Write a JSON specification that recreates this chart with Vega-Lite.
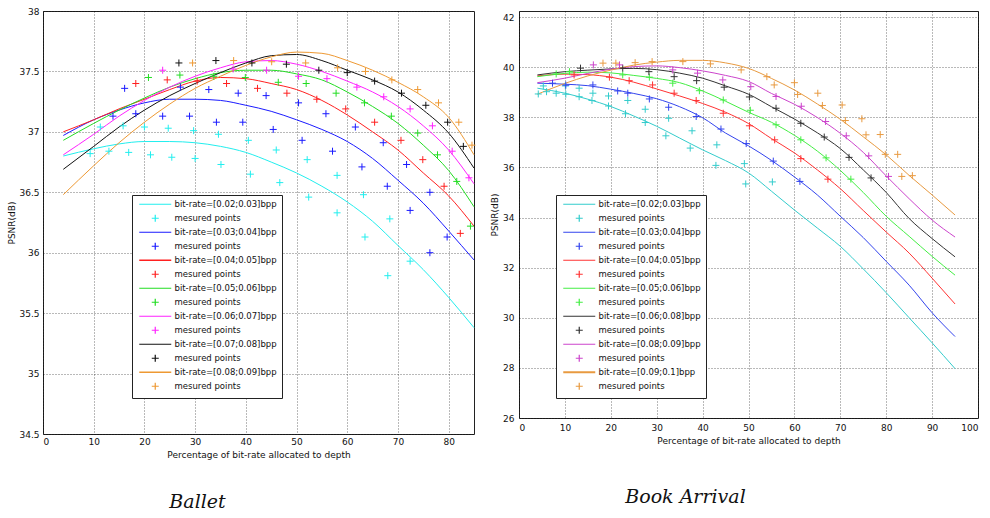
{
  "$schema": "https://vega.github.io/schema/vega-lite/v6.json",
  "padding": {"left": 7, "top": 6, "right": 0, "bottom": 0},
  "background": "white",
  "datasets": {
    "bl": [
      {"k":"a1","x":4,"y":36.80},{"k":"a1","x":10,"y":36.86},{"k":"a1","x":15,"y":36.90},{"k":"a1","x":20,"y":36.92},{"k":"a1","x":25,"y":36.92},{"k":"a1","x":30,"y":36.91},{"k":"a1","x":35,"y":36.88},{"k":"a1","x":40,"y":36.83},{"k":"a1","x":45,"y":36.75},{"k":"a1","x":50,"y":36.66},{"k":"a1","x":55,"y":36.55},{"k":"a1","x":60,"y":36.42},{"k":"a1","x":65,"y":36.26},{"k":"a1","x":70,"y":36.06},{"k":"a1","x":75,"y":35.86},{"k":"a1","x":80,"y":35.63},{"k":"a1","x":85,"y":35.38},
      {"k":"a2","x":4,"y":36.97},{"k":"a2","x":10,"y":37.10},{"k":"a2","x":15,"y":37.18},{"k":"a2","x":20,"y":37.24},{"k":"a2","x":25,"y":37.27},{"k":"a2","x":30,"y":37.27},{"k":"a2","x":35,"y":37.26},{"k":"a2","x":40,"y":37.22},{"k":"a2","x":45,"y":37.17},{"k":"a2","x":50,"y":37.10},{"k":"a2","x":55,"y":37.02},{"k":"a2","x":60,"y":36.92},{"k":"a2","x":65,"y":36.78},{"k":"a2","x":70,"y":36.60},{"k":"a2","x":75,"y":36.41},{"k":"a2","x":80,"y":36.18},{"k":"a2","x":85,"y":35.94},
      {"k":"a3","x":4,"y":37.00},{"k":"a3","x":10,"y":37.10},{"k":"a3","x":15,"y":37.19},{"k":"a3","x":20,"y":37.27},{"k":"a3","x":25,"y":37.35},{"k":"a3","x":30,"y":37.42},{"k":"a3","x":35,"y":37.45},{"k":"a3","x":40,"y":37.44},{"k":"a3","x":45,"y":37.40},{"k":"a3","x":50,"y":37.35},{"k":"a3","x":55,"y":37.26},{"k":"a3","x":60,"y":37.14},{"k":"a3","x":65,"y":37.00},{"k":"a3","x":70,"y":36.85},{"k":"a3","x":75,"y":36.66},{"k":"a3","x":80,"y":36.47},{"k":"a3","x":85,"y":36.22},
      {"k":"a4","x":4,"y":36.93},{"k":"a4","x":10,"y":37.07},{"k":"a4","x":15,"y":37.18},{"k":"a4","x":20,"y":37.28},{"k":"a4","x":25,"y":37.37},{"k":"a4","x":30,"y":37.44},{"k":"a4","x":35,"y":37.49},{"k":"a4","x":40,"y":37.51},{"k":"a4","x":45,"y":37.51},{"k":"a4","x":50,"y":37.48},{"k":"a4","x":55,"y":37.43},{"k":"a4","x":60,"y":37.33},{"k":"a4","x":65,"y":37.21},{"k":"a4","x":70,"y":37.07},{"k":"a4","x":75,"y":36.89},{"k":"a4","x":80,"y":36.68},{"k":"a4","x":85,"y":36.38},
      {"k":"a5","x":4,"y":36.81},{"k":"a5","x":10,"y":36.98},{"k":"a5","x":15,"y":37.13},{"k":"a5","x":20,"y":37.26},{"k":"a5","x":25,"y":37.37},{"k":"a5","x":30,"y":37.46},{"k":"a5","x":35,"y":37.53},{"k":"a5","x":40,"y":37.58},{"k":"a5","x":45,"y":37.59},{"k":"a5","x":50,"y":37.56},{"k":"a5","x":55,"y":37.50},{"k":"a5","x":60,"y":37.42},{"k":"a5","x":65,"y":37.33},{"k":"a5","x":70,"y":37.21},{"k":"a5","x":75,"y":37.05},{"k":"a5","x":80,"y":36.85},{"k":"a5","x":85,"y":36.57},
      {"k":"a6","x":4,"y":36.69},{"k":"a6","x":10,"y":36.88},{"k":"a6","x":15,"y":37.04},{"k":"a6","x":20,"y":37.18},{"k":"a6","x":25,"y":37.30},{"k":"a6","x":30,"y":37.40},{"k":"a6","x":35,"y":37.49},{"k":"a6","x":40,"y":37.57},{"k":"a6","x":45,"y":37.63},{"k":"a6","x":50,"y":37.64},{"k":"a6","x":55,"y":37.59},{"k":"a6","x":60,"y":37.51},{"k":"a6","x":65,"y":37.43},{"k":"a6","x":70,"y":37.33},{"k":"a6","x":75,"y":37.18},{"k":"a6","x":80,"y":36.99},{"k":"a6","x":85,"y":36.70},
      {"k":"a7","x":4,"y":36.48},{"k":"a7","x":10,"y":36.72},{"k":"a7","x":15,"y":36.91},{"k":"a7","x":20,"y":37.08},{"k":"a7","x":25,"y":37.23},{"k":"a7","x":30,"y":37.36},{"k":"a7","x":35,"y":37.46},{"k":"a7","x":40,"y":37.55},{"k":"a7","x":45,"y":37.62},{"k":"a7","x":50,"y":37.66},{"k":"a7","x":55,"y":37.65},{"k":"a7","x":60,"y":37.59},{"k":"a7","x":65,"y":37.51},{"k":"a7","x":70,"y":37.41},{"k":"a7","x":75,"y":37.29},{"k":"a7","x":80,"y":37.12},{"k":"a7","x":85,"y":36.81}
    ],
    "bp": [
      {"k":"b1","x":9.3,"y":36.82},{"k":"b1","x":13.0,"y":36.84},{"k":"b1","x":16.9,"y":36.83},{"k":"b1","x":21.2,"y":36.81},{"k":"b1","x":25.4,"y":36.79},{"k":"b1","x":30.0,"y":36.78},{"k":"b1","x":35.1,"y":36.73},{"k":"b1","x":40.9,"y":36.65},{"k":"b1","x":46.7,"y":36.58},{"k":"b1","x":52.4,"y":36.46},{"k":"b1","x":58.0,"y":36.33},{"k":"b1","x":63.5,"y":36.13},{"k":"b1","x":68.0,"y":35.81},
      {"k":"b1","x":11.3,"y":37.04},{"k":"b1","x":15.8,"y":37.05},{"k":"b1","x":20.0,"y":37.04},{"k":"b1","x":24.7,"y":37.03},{"k":"b1","x":29.7,"y":37.01},{"k":"b1","x":34.6,"y":36.98},{"k":"b1","x":40.5,"y":36.93},{"k":"b1","x":46.0,"y":36.85},{"k":"b1","x":52.1,"y":36.77},{"k":"b1","x":58.0,"y":36.64},{"k":"b1","x":63.2,"y":36.48},{"k":"b1","x":68.4,"y":36.28},{"k":"b1","x":72.4,"y":35.93},
      {"k":"b2","x":16.1,"y":37.36},{"k":"b2","x":27.1,"y":37.37},{"k":"b2","x":32.7,"y":37.35},{"k":"b2","x":38.5,"y":37.32},{"k":"b2","x":44.0,"y":37.30},{"k":"b2","x":50.4,"y":37.24},{"k":"b2","x":55.8,"y":37.15},{"k":"b2","x":61.6,"y":37.04},{"k":"b2","x":67.1,"y":36.91},{"k":"b2","x":71.7,"y":36.73},{"k":"b2","x":76.3,"y":36.50},{"k":"b2","x":79.7,"y":36.13},
      {"k":"b2","x":13.8,"y":37.13},{"k":"b2","x":18.3,"y":37.15},{"k":"b2","x":23.6,"y":37.13},{"k":"b2","x":28.9,"y":37.13},{"k":"b2","x":34.2,"y":37.08},{"k":"b2","x":39.4,"y":37.08},{"k":"b2","x":45.4,"y":37.02},{"k":"b2","x":51.1,"y":36.93},{"k":"b2","x":57.1,"y":36.84},{"k":"b2","x":62.9,"y":36.71},{"k":"b2","x":67.9,"y":36.55},{"k":"b2","x":72.4,"y":36.35},{"k":"b2","x":76.3,"y":36.00},
      {"k":"b3","x":18.3,"y":37.40},{"k":"b3","x":24.5,"y":37.43},{"k":"b3","x":30.4,"y":37.42},{"k":"b3","x":36.2,"y":37.40},{"k":"b3","x":42.3,"y":37.36},{"k":"b3","x":48.1,"y":37.32},{"k":"b3","x":54.0,"y":37.27},{"k":"b3","x":59.7,"y":37.19},{"k":"b3","x":65.4,"y":37.08},{"k":"b3","x":70.6,"y":36.93},{"k":"b3","x":74.9,"y":36.77},{"k":"b3","x":79.1,"y":36.55},{"k":"b3","x":82.3,"y":36.16},
      {"k":"b4","x":20.8,"y":37.45},{"k":"b4","x":27.0,"y":37.47},{"k":"b4","x":33.7,"y":37.46},{"k":"b4","x":39.9,"y":37.45},{"k":"b4","x":46.4,"y":37.41},{"k":"b4","x":51.9,"y":37.40},{"k":"b4","x":57.8,"y":37.32},{"k":"b4","x":63.4,"y":37.24},{"k":"b4","x":68.7,"y":37.13},{"k":"b4","x":73.9,"y":36.99},{"k":"b4","x":77.8,"y":36.81},{"k":"b4","x":81.6,"y":36.59},{"k":"b4","x":84.3,"y":36.22},
      {"k":"b5","x":23.6,"y":37.51},{"k":"b5","x":37.5,"y":37.52},{"k":"b5","x":44.1,"y":37.51},{"k":"b5","x":50.4,"y":37.46},{"k":"b5","x":56.0,"y":37.44},{"k":"b5","x":61.9,"y":37.37},{"k":"b5","x":67.2,"y":37.29},{"k":"b5","x":72.4,"y":37.19},{"k":"b5","x":76.8,"y":37.05},{"k":"b5","x":80.7,"y":36.84},{"k":"b5","x":84.0,"y":36.62},
      {"k":"b6","x":26.8,"y":37.57},{"k":"b6","x":34.1,"y":37.59},{"k":"b6","x":41.2,"y":37.57},{"k":"b6","x":48.0,"y":37.56},{"k":"b6","x":54.4,"y":37.51},{"k":"b6","x":60.0,"y":37.49},{"k":"b6","x":65.4,"y":37.42},{"k":"b6","x":70.7,"y":37.32},{"k":"b6","x":75.5,"y":37.22},{"k":"b6","x":79.8,"y":37.08},{"k":"b6","x":82.9,"y":36.88},
      {"k":"b7","x":29.5,"y":37.57},{"k":"b7","x":37.6,"y":37.59},{"k":"b7","x":45.1,"y":37.58},{"k":"b7","x":51.8,"y":37.57},{"k":"b7","x":58.1,"y":37.53},{"k":"b7","x":63.6,"y":37.50},{"k":"b7","x":68.8,"y":37.43},{"k":"b7","x":73.9,"y":37.35},{"k":"b7","x":78.0,"y":37.24},{"k":"b7","x":82.0,"y":37.08},{"k":"b7","x":84.6,"y":36.89}
    ],
    "kl": [
      {"k":"a1","x":4,"y":39.16},{"k":"a1","x":10,"y":38.96},{"k":"a1","x":15,"y":38.72},{"k":"a1","x":20,"y":38.43},{"k":"a1","x":25,"y":38.05},{"k":"a1","x":30,"y":37.64},{"k":"a1","x":35,"y":37.17},{"k":"a1","x":40,"y":36.70},{"k":"a1","x":45,"y":36.27},{"k":"a1","x":50,"y":35.78},{"k":"a1","x":55,"y":35.05},{"k":"a1","x":60,"y":34.30},{"k":"a1","x":65,"y":33.58},{"k":"a1","x":70,"y":32.85},{"k":"a1","x":75,"y":31.95},{"k":"a1","x":80,"y":31.00},{"k":"a1","x":85,"y":30.00},{"k":"a1","x":90,"y":29.00},{"k":"a1","x":95,"y":27.97},
      {"k":"a2","x":4,"y":39.36},{"k":"a2","x":10,"y":39.32},{"k":"a2","x":15,"y":39.26},{"k":"a2","x":20,"y":39.12},{"k":"a2","x":25,"y":38.95},{"k":"a2","x":30,"y":38.74},{"k":"a2","x":35,"y":38.42},{"k":"a2","x":40,"y":37.98},{"k":"a2","x":45,"y":37.37},{"k":"a2","x":50,"y":36.86},{"k":"a2","x":55,"y":36.28},{"k":"a2","x":60,"y":35.62},{"k":"a2","x":65,"y":34.90},{"k":"a2","x":70,"y":34.05},{"k":"a2","x":75,"y":33.20},{"k":"a2","x":80,"y":32.25},{"k":"a2","x":85,"y":31.30},{"k":"a2","x":90,"y":30.20},{"k":"a2","x":95,"y":29.25},
      {"k":"a3","x":4,"y":39.65},{"k":"a3","x":10,"y":39.72},{"k":"a3","x":15,"y":39.70},{"k":"a3","x":20,"y":39.60},{"k":"a3","x":25,"y":39.40},{"k":"a3","x":30,"y":39.13},{"k":"a3","x":35,"y":38.85},{"k":"a3","x":40,"y":38.55},{"k":"a3","x":45,"y":38.20},{"k":"a3","x":50,"y":37.75},{"k":"a3","x":55,"y":37.15},{"k":"a3","x":60,"y":36.58},{"k":"a3","x":65,"y":35.90},{"k":"a3","x":70,"y":35.15},{"k":"a3","x":75,"y":34.28},{"k":"a3","x":80,"y":33.42},{"k":"a3","x":85,"y":32.58},{"k":"a3","x":90,"y":31.58},{"k":"a3","x":95,"y":30.55},
      {"k":"a4","x":4,"y":39.62},{"k":"a4","x":10,"y":39.75},{"k":"a4","x":15,"y":39.80},{"k":"a4","x":20,"y":39.77},{"k":"a4","x":25,"y":39.67},{"k":"a4","x":30,"y":39.55},{"k":"a4","x":35,"y":39.38},{"k":"a4","x":40,"y":39.05},{"k":"a4","x":45,"y":38.64},{"k":"a4","x":50,"y":38.20},{"k":"a4","x":55,"y":37.80},{"k":"a4","x":60,"y":37.28},{"k":"a4","x":65,"y":36.65},{"k":"a4","x":70,"y":35.88},{"k":"a4","x":75,"y":35.00},{"k":"a4","x":80,"y":34.05},{"k":"a4","x":85,"y":33.25},{"k":"a4","x":90,"y":32.45},{"k":"a4","x":95,"y":31.70},
      {"k":"a5","x":4,"y":39.69},{"k":"a5","x":10,"y":39.82},{"k":"a5","x":15,"y":39.88},{"k":"a5","x":20,"y":39.93},{"k":"a5","x":25,"y":39.95},{"k":"a5","x":30,"y":39.90},{"k":"a5","x":35,"y":39.76},{"k":"a5","x":40,"y":39.56},{"k":"a5","x":45,"y":39.25},{"k":"a5","x":50,"y":38.92},{"k":"a5","x":55,"y":38.42},{"k":"a5","x":60,"y":37.93},{"k":"a5","x":65,"y":37.38},{"k":"a5","x":70,"y":36.75},{"k":"a5","x":75,"y":35.90},{"k":"a5","x":80,"y":35.00},{"k":"a5","x":85,"y":33.96},{"k":"a5","x":90,"y":33.16},{"k":"a5","x":95,"y":32.43},
      {"k":"a6","x":4,"y":39.38},{"k":"a6","x":10,"y":39.56},{"k":"a6","x":15,"y":39.75},{"k":"a6","x":20,"y":39.92},{"k":"a6","x":25,"y":40.02},{"k":"a6","x":30,"y":40.05},{"k":"a6","x":35,"y":39.98},{"k":"a6","x":40,"y":39.85},{"k":"a6","x":45,"y":39.67},{"k":"a6","x":50,"y":39.43},{"k":"a6","x":55,"y":38.95},{"k":"a6","x":60,"y":38.52},{"k":"a6","x":65,"y":37.99},{"k":"a6","x":70,"y":37.36},{"k":"a6","x":75,"y":36.60},{"k":"a6","x":80,"y":35.66},{"k":"a6","x":85,"y":34.75},{"k":"a6","x":90,"y":33.90},{"k":"a6","x":95,"y":33.22},
      {"k":"a7","x":4,"y":38.92},{"k":"a7","x":10,"y":39.35},{"k":"a7","x":15,"y":39.65},{"k":"a7","x":20,"y":39.88},{"k":"a7","x":25,"y":40.08},{"k":"a7","x":30,"y":40.20},{"k":"a7","x":35,"y":40.27},{"k":"a7","x":40,"y":40.27},{"k":"a7","x":45,"y":40.17},{"k":"a7","x":50,"y":39.95},{"k":"a7","x":55,"y":39.55},{"k":"a7","x":60,"y":39.09},{"k":"a7","x":65,"y":38.53},{"k":"a7","x":70,"y":37.92},{"k":"a7","x":75,"y":37.22},{"k":"a7","x":80,"y":36.50},{"k":"a7","x":85,"y":35.68},{"k":"a7","x":90,"y":34.90},{"k":"a7","x":95,"y":34.10}
    ],
    "kp": [
      {"k":"b1","x":4.2,"y":38.93},{"k":"b1","x":6.0,"y":39.02},{"k":"b1","x":8.1,"y":38.96},{"k":"b1","x":10.2,"y":38.92},{"k":"b1","x":13.1,"y":38.82},{"k":"b1","x":15.9,"y":38.67},{"k":"b1","x":19.5,"y":38.45},{"k":"b1","x":23.2,"y":38.14},{"k":"b1","x":27.5,"y":37.79},{"k":"b1","x":32.0,"y":37.26},{"k":"b1","x":37.3,"y":36.77},{"k":"b1","x":42.9,"y":36.08},{"k":"b1","x":49.4,"y":35.34},{"k":"b1","x":55.2,"y":35.42},
      {"k":"b1","x":5.3,"y":39.25},{"k":"b1","x":10.1,"y":39.25},{"k":"b1","x":13.1,"y":39.16},{"k":"b1","x":16.1,"y":38.96},{"k":"b1","x":19.5,"y":38.85},{"k":"b1","x":23.7,"y":38.67},{"k":"b1","x":27.5,"y":38.32},{"k":"b1","x":32.6,"y":37.96},{"k":"b1","x":37.7,"y":37.46},{"k":"b1","x":43.1,"y":36.90},{"k":"b1","x":49.1,"y":36.15},
      {"k":"b2","x":7.3,"y":39.36},{"k":"b2","x":10.2,"y":39.28},{"k":"b2","x":16.1,"y":39.29},{"k":"b2","x":21.5,"y":39.05},{"k":"b2","x":23.7,"y":38.96},{"k":"b2","x":28.4,"y":38.73},{"k":"b2","x":32.6,"y":38.40},{"k":"b2","x":38.6,"y":38.03},{"k":"b2","x":44.0,"y":37.53},{"k":"b2","x":49.5,"y":36.95},{"k":"b2","x":55.4,"y":36.25},{"k":"b2","x":61.2,"y":35.44},
      {"k":"b3","x":12.0,"y":39.69},{"k":"b3","x":19.7,"y":39.60},{"k":"b3","x":24.0,"y":39.46},{"k":"b3","x":29.1,"y":39.29},{"k":"b3","x":33.8,"y":38.96},{"k":"b3","x":38.6,"y":38.67},{"k":"b3","x":44.5,"y":38.16},{"k":"b3","x":50.2,"y":37.66},{"k":"b3","x":55.7,"y":37.10},{"k":"b3","x":61.4,"y":36.35},{"k":"b3","x":67.3,"y":35.53},
      {"k":"b4","x":8.1,"y":39.73},{"k":"b4","x":11.0,"y":39.82},{"k":"b4","x":22.6,"y":39.69},{"k":"b4","x":28.4,"y":39.60},{"k":"b4","x":33.5,"y":39.36},{"k":"b4","x":39.3,"y":39.06},{"k":"b4","x":44.5,"y":38.69},{"k":"b4","x":50.4,"y":38.28},{"k":"b4","x":56.0,"y":37.70},{"k":"b4","x":61.4,"y":37.10},{"k":"b4","x":66.9,"y":36.38},{"k":"b4","x":72.3,"y":35.53},
      {"k":"b5","x":13.4,"y":39.96},{"k":"b5","x":22.6,"y":39.96},{"k":"b5","x":28.3,"y":39.82},{"k":"b5","x":33.8,"y":39.62},{"k":"b5","x":38.7,"y":39.46},{"k":"b5","x":44.7,"y":39.20},{"k":"b5","x":50.2,"y":38.81},{"k":"b5","x":56.0,"y":38.36},{"k":"b5","x":61.4,"y":37.76},{"k":"b5","x":66.5,"y":37.21},{"k":"b5","x":71.9,"y":36.40},{"k":"b5","x":76.7,"y":35.58},
      {"k":"b6","x":16.2,"y":40.09},{"k":"b6","x":21.9,"y":40.09},{"k":"b6","x":33.5,"y":39.89},{"k":"b6","x":38.9,"y":39.76},{"k":"b6","x":44.4,"y":39.49},{"k":"b6","x":50.5,"y":39.22},{"k":"b6","x":56.0,"y":38.83},{"k":"b6","x":61.5,"y":38.44},{"k":"b6","x":66.8,"y":37.83},{"k":"b6","x":71.3,"y":37.26},{"k":"b6","x":76.2,"y":36.46},{"k":"b6","x":80.5,"y":35.64},
      {"k":"b7","x":18.3,"y":40.16},{"k":"b7","x":21.1,"y":40.16},{"k":"b7","x":25.3,"y":40.18},{"k":"b7","x":29.0,"y":40.22},{"k":"b7","x":35.7,"y":40.22},{"k":"b7","x":41.7,"y":40.13},{"k":"b7","x":48.4,"y":39.89},{"k":"b7","x":54.0,"y":39.62},{"k":"b7","x":55.6,"y":39.29},{"k":"b7","x":60.0,"y":39.38},{"k":"b7","x":60.7,"y":38.91},{"k":"b7","x":65.1,"y":38.96},{"k":"b7","x":66.1,"y":38.47},{"k":"b7","x":70.4,"y":38.49},{"k":"b7","x":71.1,"y":37.87},{"k":"b7","x":74.7,"y":37.94},{"k":"b7","x":75.6,"y":37.30},{"k":"b7","x":78.7,"y":37.31},{"k":"b7","x":79.8,"y":36.52},{"k":"b7","x":82.5,"y":36.52},{"k":"b7","x":83.4,"y":35.64},{"k":"b7","x":85.7,"y":35.67}
    ]
  },
  "hconcat": [
    {
      "width": 431,
      "height": 423,
      "title": {"text": "Ballet", "orient": "bottom", "dx": -61, "offset": 34},
      "layer": [
        {
          "data": {"name": "bl"},
          "mark": {"type": "line", "strokeWidth": 1, "interpolate": "monotone"},
          "encoding": {
            "x": {"field": "x", "type": "quantitative", "scale": {"domain": [0, 85], "nice": false, "zero": false},
                  "axis": {"values": [0,10,20,30,40,50,60,70,80], "title": "Percentage of bit-rate allocated to depth", "grid": true, "labelPadding": 3}},
            "y": {"field": "y", "type": "quantitative", "scale": {"domain": [34.5, 38], "nice": false, "zero": false},
                  "axis": {"values": [34.5,35,35.5,36,36.5,37,37.5,38], "format": "~f", "title": "PSNR(dB)", "titlePadding": 2, "grid": true}},
            "color": {"field": "k", "type": "nominal",
              "scale": {"domain": ["a1","b1","a2","b2","a3","b3","a4","b4","a5","b5","a6","b6","a7","b7"],
                        "range": ["#22EEEE","#22EEEE","#1A1AFF","#1A1AFF","#FF2020","#FF2020","#22DD22","#22DD22","#FF22FF","#FF22FF","#111111","#111111","#EE9933","#EE9933"]},
              "legend": {"orient": "none", "legendX": 89, "legendY": 184, "title": null, "direction": "vertical",
                "labelExpr": "indexof(datum.value,'b')==0 ? 'mesured points' : 'bit-rate=[' + (datum.value=='a1' ? '0.02;0.03' : datum.value=='a2' ? '0.03;0.04' : datum.value=='a3' ? '0.04;0.05' : datum.value=='a4' ? '0.05;0.06' : datum.value=='a5' ? '0.06;0.07' : datum.value=='a6' ? '0.07;0.08' : '0.08;0.09') + ']bpp'",
                "encode": {"symbols": {"update": {
                  "shape": {"signal": "indexof(datum.value,'a')==0 ? 'M-1,0H15' : 'M5.25,0H8.75M7,-1.75V1.75'"},
                  "strokeWidth": {"signal": "datum.value=='a3' || datum.value=='a7' ? 1.6 : 1.2"}
                }}}}
            }
          }
        },
        {
          "data": {"name": "bp"},
          "mark": {"type": "point", "shape": "M-1,0H1M0,-1V1", "size": 49, "filled": false, "strokeWidth": 1, "opacity": 1},
          "encoding": {
            "x": {"field": "x", "type": "quantitative", "scale": {"domain": [0, 85], "nice": false, "zero": false}},
            "y": {"field": "y", "type": "quantitative", "scale": {"domain": [34.5, 38], "nice": false, "zero": false}},
            "color": {"field": "k", "type": "nominal",
              "scale": {"domain": ["a1","b1","a2","b2","a3","b3","a4","b4","a5","b5","a6","b6","a7","b7"],
                        "range": ["#22EEEE","#22EEEE","#1A1AFF","#1A1AFF","#FF2020","#FF2020","#22DD22","#22DD22","#FF22FF","#FF22FF","#111111","#111111","#EE9933","#EE9933"]},
              "legend": {"orient": "none", "legendX": 89, "legendY": 184, "title": null, "direction": "vertical",
                "labelExpr": "indexof(datum.value,'b')==0 ? 'mesured points' : 'bit-rate=[' + (datum.value=='a1' ? '0.02;0.03' : datum.value=='a2' ? '0.03;0.04' : datum.value=='a3' ? '0.04;0.05' : datum.value=='a4' ? '0.05;0.06' : datum.value=='a5' ? '0.06;0.07' : datum.value=='a6' ? '0.07;0.08' : '0.08;0.09') + ']bpp'",
                "encode": {"symbols": {"update": {
                  "shape": {"signal": "indexof(datum.value,'a')==0 ? 'M-1,0H15' : 'M5.25,0H8.75M7,-1.75V1.75'"},
                  "strokeWidth": {"signal": "datum.value=='a3' || datum.value=='a7' ? 1.6 : 1.2"}
                }}}}
            }
          }
        }
      ]
    },
    {
      "width": 459,
      "height": 407,
      "title": {"text": "Book Arrival", "orient": "bottom", "dx": -63, "offset": 43},
      "layer": [
        {
          "data": {"name": "kl"},
          "mark": {"type": "line", "strokeWidth": 1, "interpolate": "monotone"},
          "encoding": {
            "x": {"field": "x", "type": "quantitative", "scale": {"domain": [0, 100], "nice": false, "zero": false},
                  "axis": {"values": [0,10,20,30,40,50,60,70,80,90,100], "title": "Percentage of bit-rate allocated to depth", "grid": true, "labelPadding": 5}},
            "y": {"field": "y", "type": "quantitative", "scale": {"domain": [26, 42.24], "nice": false, "zero": false},
                  "axis": {"values": [26,28,30,32,34,36,38,40,42], "title": "PSNR(dB)", "titlePadding": 3, "labelPadding": 5, "grid": true}},
            "color": {"field": "k", "type": "nominal",
              "scale": {"domain": ["a1","b1","a2","b2","a3","b3","a4","b4","a5","b5","a6","b6","a7","b7"],
                        "range": ["#33CCCC","#33CCCC","#3344EE","#3344EE","#FF3333","#FF3333","#44EE44","#44EE44","#333333","#333333","#CC44CC","#CC44CC","#E89A40","#E89A40"]},
              "legend": {"orient": "none", "legendX": 37, "legendY": 184, "title": null, "direction": "vertical",
                "labelExpr": "indexof(datum.value,'b')==0 ? 'mesured points' : 'bit-rate=[' + (datum.value=='a1' ? '0.02;0.03' : datum.value=='a2' ? '0.03;0.04' : datum.value=='a3' ? '0.04;0.05' : datum.value=='a4' ? '0.05;0.06' : datum.value=='a5' ? '0.06;0.08' : datum.value=='a6' ? '0.08;0.09' : '0.09;0.1') + ']bpp'",
                "encode": {"symbols": {"update": {
                  "shape": {"signal": "indexof(datum.value,'a')==0 ? 'M-1,0H15' : 'M5.25,0H8.75M7,-1.75V1.75'"},
                  "strokeWidth": {"signal": "datum.value=='a7' ? 2 : 1.2"}
                }}}}
            }
          }
        },
        {
          "data": {"name": "kp"},
          "mark": {"type": "point", "shape": "M-1,0H1M0,-1V1", "size": 49, "filled": false, "strokeWidth": 1, "opacity": 1},
          "encoding": {
            "x": {"field": "x", "type": "quantitative", "scale": {"domain": [0, 100], "nice": false, "zero": false}},
            "y": {"field": "y", "type": "quantitative", "scale": {"domain": [26, 42.24], "nice": false, "zero": false}},
            "color": {"field": "k", "type": "nominal",
              "scale": {"domain": ["a1","b1","a2","b2","a3","b3","a4","b4","a5","b5","a6","b6","a7","b7"],
                        "range": ["#33CCCC","#33CCCC","#3344EE","#3344EE","#FF3333","#FF3333","#44EE44","#44EE44","#333333","#333333","#CC44CC","#CC44CC","#E89A40","#E89A40"]},
              "legend": {"orient": "none", "legendX": 37, "legendY": 184, "title": null, "direction": "vertical",
                "labelExpr": "indexof(datum.value,'b')==0 ? 'mesured points' : 'bit-rate=[' + (datum.value=='a1' ? '0.02;0.03' : datum.value=='a2' ? '0.03;0.04' : datum.value=='a3' ? '0.04;0.05' : datum.value=='a4' ? '0.05;0.06' : datum.value=='a5' ? '0.06;0.08' : datum.value=='a6' ? '0.08;0.09' : '0.09;0.1') + ']bpp'",
                "encode": {"symbols": {"update": {
                  "shape": {"signal": "indexof(datum.value,'a')==0 ? 'M-1,0H15' : 'M5.25,0H8.75M7,-1.75V1.75'"},
                  "strokeWidth": {"signal": "datum.value=='a7' ? 2 : 1.2"}
                }}}}
            }
          }
        }
      ]
    }
  ],
  "spacing": 12,
  "resolve": {"scale": {"color": "independent"}},
  "config": {
    "view": {"stroke": "#222222", "strokeWidth": 1},
    "axis": {"labelFont": "DejaVu Sans", "labelFontSize": 9, "labelColor": "#111111", "titleFont": "DejaVu Sans", "titleFontSize": 9, "titleFontWeight": "normal", "titleColor": "#111111", "ticks": false, "domain": false, "gridColor": "#000000", "gridOpacity": 0.55, "gridDash": [1, 2], "labelPadding": 4, "titlePadding": 4},
    "legend": {"fillColor": "white", "strokeColor": "#222222", "padding": 5, "labelFont": "DejaVu Sans", "labelFontSize": 8.5, "labelColor": "#111111", "symbolSize": 16, "symbolStrokeWidth": 1.2, "labelOffset": 29, "rowPadding": 3, "labelLimit": 200},
    "title": {"font": "DejaVu Serif", "fontStyle": "italic", "fontWeight": "normal", "fontSize": 19, "color": "#111111"}
  }
}
